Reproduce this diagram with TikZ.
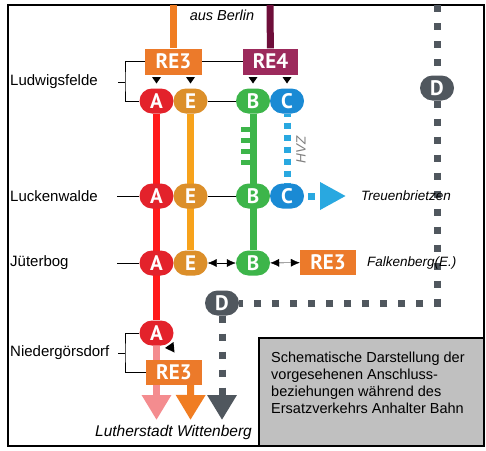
\documentclass[tikz,border=0pt]{standalone}
\usepackage{fontspec}
\setmainfont{Liberation Sans}
\newfontfamily\badgefont{PT Sans}
\usetikzlibrary{arrows.meta,backgrounds}

\definecolor{colA}{HTML}{E3222B}
\definecolor{trackA}{HTML}{FF1A1A}
\definecolor{colE}{HTML}{DC8F2A}
\definecolor{trackE}{HTML}{F7A21B}
\definecolor{colB}{HTML}{3DB54A}
\definecolor{colC}{HTML}{1A8AD4}
\definecolor{trackC}{HTML}{29A8E0}
\definecolor{colD}{HTML}{50575E}
\definecolor{colRE3}{HTML}{EC7A2A}
\definecolor{colRE4}{HTML}{9C2A5C}
\definecolor{trackRE4}{HTML}{6E0E3A}
\definecolor{trackRE3}{HTML}{F07D22}
\definecolor{pinkA}{HTML}{F48C8F}
\definecolor{infogray}{HTML}{C0C0C0}

\tikzset{
  badge/.style={rectangle, rounded corners=12.5pt, minimum width=34pt,
    minimum height=25pt, inner sep=0pt, text=white,
    font=\badgefont\bfseries\fontsize{21}{21}\selectfont},
  rebox/.style={rectangle, minimum height=26pt, inner sep=0pt, text=white,
    font=\badgefont\bfseries\fontsize{21}{21}\selectfont},
  station/.style={anchor=west, inner sep=0pt, font=\fontsize{15}{15}\selectfont},
  dest/.style={inner sep=0pt, font=\itshape\fontsize{13.5}{13.5}\selectfont},
  track/.style={line width=7pt},
  dashtrack/.style={line width=7pt, dash pattern=on 7pt off 11pt},
  bigtip/.style={-{Triangle[width=28pt,length=25pt]}},
  link/.style={{Latex[length=9pt,width=8pt]}-{Latex[length=9pt,width=8pt]}},
}

\begin{document}
\begin{tikzpicture}[x=1pt, y=-1pt]
    \useasboundingbox (0,0) rectangle (486,450);

    % Line boxes
    \node[rebox, fill=colRE3, minimum width=57pt] (re3top) at (173.5,61.5) {RE3};
    \node[rebox, fill=colRE4, minimum width=55pt] (re4) at (270.5,61.5) {RE4};
    \node[rebox, fill=colRE3, minimum width=56pt, minimum height=25pt] (re3mid) at (328,262.5) {RE3};

    % Ludwigsfelde
    \node[badge, fill=colA] (A1) at (156.5,101) {A};
    \node[badge, fill=colE] (E1) at (190.5,101) {E};
    \node[badge, fill=colB] (B1) at (253,101) {B};
    \node[badge, fill=colC] (C1) at (287,101) {C};
    % Luckenwalde
    \node[badge, fill=colA] (A2) at (156.5,196) {A};
    \node[badge, fill=colE] (E2) at (190.5,196) {E};
    \node[badge, fill=colB] (B2) at (253,196) {B};
    \node[badge, fill=colC] (C2) at (287,196) {C};
    % Jueterbog
    \node[badge, fill=colA] (A3) at (156.5,263) {A};
    \node[badge, fill=colE] (E3) at (190.5,263) {E};
    \node[badge, fill=colB] (B3) at (253,263) {B};
    % Niedergoersdorf
    \node[badge, fill=colA] (A4) at (156.5,333) {A};
    \node[rebox, fill=colRE3, minimum width=56pt, minimum height=25pt] (re3low) at (174,372.5) {RE3};
    % Bus D
    \node[badge, fill=colD] (D1) at (437,88) {D};
    \node[badge, fill=colD] (D2) at (222,303) {D};

    % Free ends
    \coordinate (fromRE3) at (173.5,5);
    \coordinate (fromRE4) at (270,5);
    \coordinate (fromD) at (437,5);
    \coordinate (tipA) at (156.5,420);
    \coordinate (tipRE3) at (190.5,420);
    \coordinate (tipD) at (222,420);
    \coordinate (tipC) at (346,196);

    \begin{pgfonlayer}{background}
    % Frame
    \fill[white] (0,0) rectangle (486,450);
    \draw[line width=1.5pt] (8,5) rectangle (484,446);
    % Tracks
    \draw[track, trackRE3] (fromRE3) -- (re3top);
    \draw[track, trackRE4] (fromRE4) -- (re4);
    \draw[track, trackA] (A1) -- (A4);
    \draw[track, trackE] (E1) -- (E3);
    \draw[track, colB] (B1) -- (B3);
    \draw[track, pinkA, bigtip] (A4) -- (tipA);
    \draw[track, trackRE3, bigtip] ([xshift=-11.5pt]re3low.south east) -- (tipRE3);
    \draw[dashtrack, trackC, dash pattern=on 6pt off 6pt, dash phase=3pt] (C1) -- (C2);
    \draw[dashtrack, trackC, dash phase=14pt, -{Triangle[width=26pt,length=26pt]}] (C2.east) -- (tipC);
    \draw[dashtrack, colD] (fromD) -- (D1);
    \draw[dashtrack, colD] (D1) |- (D2);
    \draw[dashtrack, colD, bigtip] (D2) -- (tipD);
    \end{pgfonlayer}

    % Comb on B
    \foreach \y in {129.5,140.5,151,162}
        \fill[colB] (241,\y-2.5) rectangle (251,\y+2.5);

    % Transfer marks
    \foreach \x in {156.5,190.5,253,287}
        \fill (\x-4.5,77) -- (\x+4.5,77) -- (\x,83.5) -- cycle;
    \fill (165,348) -- (173.5,342) -- (174.5,352.5) -- cycle;

    % Connections
    \draw (re3top) -- (re4);
    \draw (E1) -- (B1);
    \draw (E2) -- (B2);
    \draw[link] (E3) -- (B3);
    \draw[link] (B3) -- (re3mid);

    % Stations
    \node[station] (ludwigsfelde) at (10,82) {Ludwigsfelde};
    \node[station] (luckenwalde) at (10,196) {Luckenwalde};
    \node[station] (jueterbog) at (10,263) {Jüterbog};
    \node[station] (niedergoersdorf) at (10,353) {Niedergörsdorf};
    \coordinate (brLud) at (125,82);
    \coordinate (brNie) at (125,353);
    \draw (brLud) -- ++(-7,0);
    \draw (re3top.west) -| (brLud) |- (A1.west);
    \draw (A2.west) -- ++(-22,0);
    \draw (A3.west) -- ++(-22,0);
    \draw (brNie) -- ++(-7,0);
    \draw (A4.west) -| (brNie) |- (re3low.west);

    % Destinations
    \node[dest, font=\itshape\fontsize{14.5}{14.5}\selectfont] (berlin) at (222,15) {aus Berlin};
    \node[dest, anchor=west] (treuen) at (361,196) {Treuenbrietzen};
    \node[dest, anchor=west] (falken) at (367,263) {Falkenberg(E.)};
    \node[dest, font=\itshape\fontsize{15.5}{15.5}\selectfont] (wittenberg) at (173.5,432) {Lutherstadt Wittenberg};
    \node[dest, gray, rotate=90, font=\itshape\fontsize{13.5}{13.5}\selectfont] (hvz) at (301,150) {HVZ};

    % Info box
    \draw[line width=1.5pt, fill=infogray] (259,338) rectangle (484,446);
    \node[anchor=north west, inner sep=0pt, align=left,
        font=\fontsize{14.5}{17}\selectfont] (info) at (271,352)
        {Schematische Darstellung der\\vorgesehenen Anschluss-\\beziehungen während des\\Ersatzverkehrs Anhalter Bahn};
\end{tikzpicture}
\end{document}
